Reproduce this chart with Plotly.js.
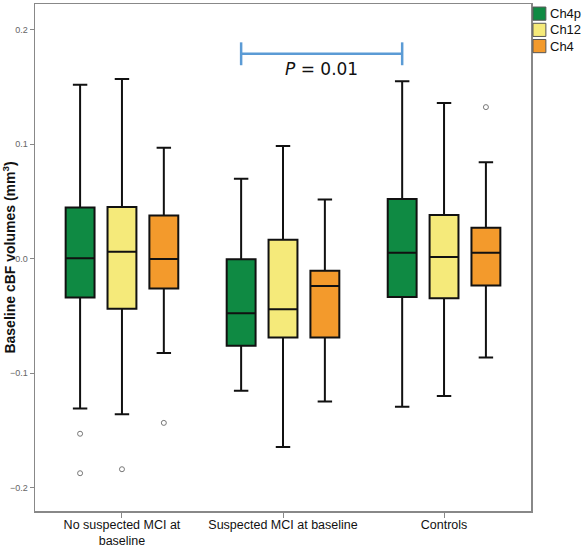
<!DOCTYPE html>
<html>
<head>
<meta charset="utf-8">
<script src="https://cdn.plot.ly/plotly-3.0.1.min.js"></script>
<style>html,body{margin:0;padding:0;background:#fff;}#chart{width:582px;height:547px;}</style>
</head>
<body>
<div id="chart"></div>
<script>
var categories = ["No suspected MCI at<br>baseline", "Suspected MCI at baseline", "Controls"];
var seriesNames = ["Ch4p", "Ch12", "Ch4"];

// Ch4p
var ch4pLower  = [-0.131, -0.1155, -0.1295];
var ch4pQ1     = [-0.034, -0.0761, -0.0335];
var ch4pMedian = [0.0003, -0.0478, 0.0052];
var ch4pQ3     = [0.0446, -0.0005, 0.0522];
var ch4pUpper  = [0.152, 0.0697, 0.155];
var ch4pOutliers = [[-0.153, -0.1875], [], []];

// Ch12
var ch12Lower  = [-0.136, -0.1645, -0.120];
var ch12Q1     = [-0.0437, -0.0688, -0.0347];
var ch12Median = [0.0061, -0.0443, 0.0015];
var ch12Q3     = [0.0452, 0.0166, 0.0382];
var ch12Upper  = [0.157, 0.0985, 0.136];
var ch12Outliers = [[-0.184], [], []];

// Ch4
var ch4Lower  = [-0.0825, -0.1248, -0.0863];
var ch4Q1     = [-0.026, -0.0688, -0.0234];
var ch4Median = [-0.0003, -0.0239, 0.0052];
var ch4Q3     = [0.0376, -0.0105, 0.0269];
var ch4Upper  = [0.097, 0.0516, 0.0843];
var ch4Outliers = [[-0.1435], [], [0.1324]];

var colors = ["#0f8a43", "#f5ea7a", "#f39a2c"];

function boxTrace(name, lo, q1, med, q3, up, outl, color) {
  return {
    type: "box",
    name: name,
    x: categories,
    y: outl,
    q1: q1, median: med, q3: q3,
    lowerfence: lo, upperfence: up,
    boxpoints: "outliers",
    pointpos: 0, jitter: 0,
    fillcolor: color,
    line: {color: "#111111", width: 2},
    whiskerwidth: 0.5,
    marker: {symbol: "circle-open", size: 5, color: "#777777", line: {width: 1, color: "#777777"}},
    hoverinfo: "skip"
  };
}

var data = [
  boxTrace(seriesNames[0], ch4pLower, ch4pQ1, ch4pMedian, ch4pQ3, ch4pUpper, ch4pOutliers, colors[0]),
  boxTrace(seriesNames[1], ch12Lower, ch12Q1, ch12Median, ch12Q3, ch12Upper, ch12Outliers, colors[1]),
  boxTrace(seriesNames[2], ch4Lower, ch4Q1, ch4Median, ch4Q3, ch4Upper, ch4Outliers, colors[2])
];

// legend built as paper-positioned swatches + labels (compact, like the reference)
var legendShapes = [], legendAnn = [];
var legTop = [0.994, 0.962, 0.930];
seriesNames.forEach(function (nm, i) {
  legendShapes.push({type: "rect", xref: "paper", yref: "paper", x0: 1.004, x1: 1.030,
    y0: legTop[i] - 0.026, y1: legTop[i], fillcolor: colors[i], line: {color: "#555", width: 1}});
  legendAnn.push({xref: "paper", yref: "paper", x: 1.034, y: legTop[i] - 0.013, xanchor: "left", yanchor: "middle",
    text: nm, showarrow: false, font: {size: 13, color: "#111"}});
});

var layout = {
  width: 582, height: 547,
  margin: {l: 35, r: 51, t: 4, b: 36, autoexpand: false},
  paper_bgcolor: "#ffffff", plot_bgcolor: "#ffffff",
  font: {family: "Liberation Sans, Arial, sans-serif", color: "#222"},
  boxmode: "group",
  boxgap: 0.22,
  boxgroupgap: 0.31,
  showlegend: false,
  xaxis: {
    type: "category",
    range: [-0.54, 2.54],
    showline: true, mirror: true, linecolor: "#888", linewidth: 1.5,
    ticks: "outside", ticklen: 5, tickcolor: "#888",
    ticklabelstandoff: -4,
    tickfont: {size: 12.5, color: "#111"},
    showgrid: false, zeroline: false, automargin: false
  },
  yaxis: {
    range: [-0.2205, 0.2225],
    tickvals: [-0.2, -0.1, 0, 0.1, 0.2],
    tickformat: ".1f",
    showline: true, mirror: true, linecolor: "#888", linewidth: 1.5,
    ticks: "outside", ticklen: 4, tickcolor: "#888",
    tickfont: {size: 9, color: "#666"},
    showgrid: false, zeroline: false, automargin: false,
    title: {text: "<b>Baseline cBF volumes (mm<sup>3</sup>)</b>", font: {size: 14, color: "#111"}, standoff: 2}
  },
  shapes: [
    {type: "line", xref: "x", yref: "y", x0: 0.74, x1: 1.74, y0: 0.179, y1: 0.179, line: {color: "#5b9bd5", width: 2.5}},
    {type: "line", xref: "x", yref: "y", x0: 0.74, x1: 0.74, y0: 0.169, y1: 0.189, line: {color: "#5b9bd5", width: 2.5}},
    {type: "line", xref: "x", yref: "y", x0: 1.74, x1: 1.74, y0: 0.169, y1: 0.189, line: {color: "#5b9bd5", width: 2.5}}
  ].concat(legendShapes),
  annotations: [
    {xref: "x", yref: "y", x: 1.24, y: 0.166, text: "<i>P</i> = 0.01", showarrow: false,
     font: {family: "DejaVu Sans, Verdana, sans-serif", size: 17, color: "#111"}}
  ].concat(legendAnn)
};

Plotly.newPlot("chart", data, layout, {displayModeBar: false, staticPlot: true});
</script>
</body>
</html>
